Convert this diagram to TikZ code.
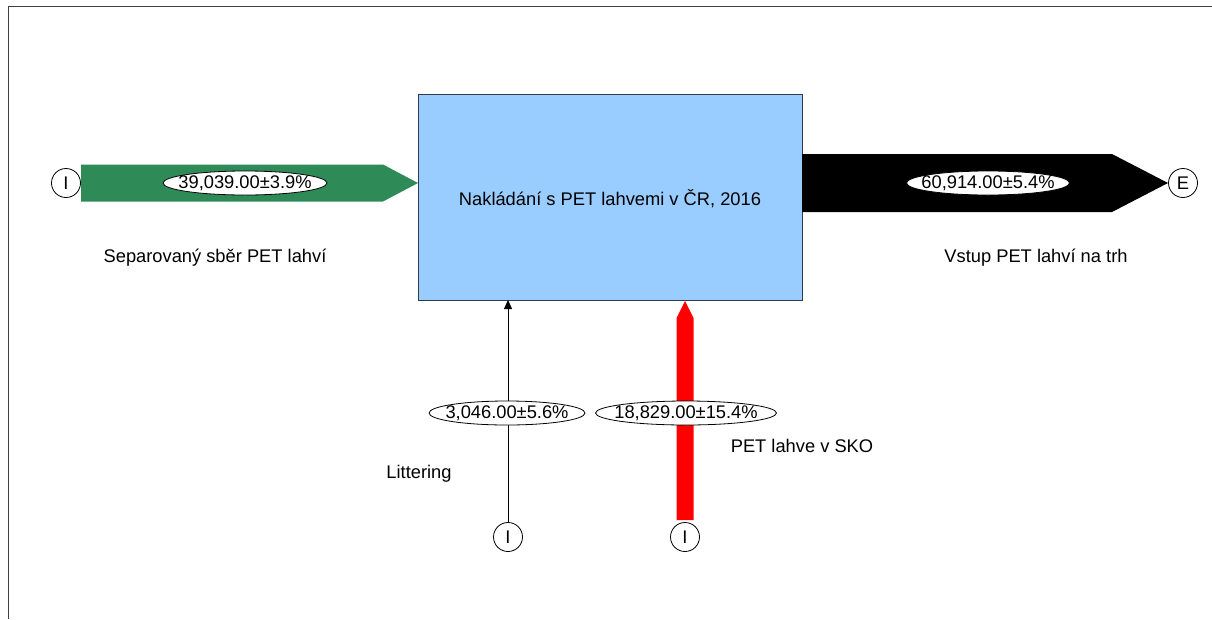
\documentclass[tikz,border=0pt]{standalone}
\usepackage{fontspec}
\setmainfont{Liberation Sans}
\usetikzlibrary{arrows.meta,shapes.geometric}
\definecolor{boxblue}{HTML}{99CCFF}
\definecolor{boxedge}{HTML}{2F3A4A}
\definecolor{flowgreen}{HTML}{2E8B57}
\definecolor{flowred}{HTML}{FF0000}
\begin{document}
\begin{tikzpicture}[x=1pt,y=-1pt,
  every node/.style={font=\fontsize{18.3}{22}\selectfont},
  term/.style={circle,draw=black,line width=0.8pt,fill=white,minimum size=29pt,inner sep=0pt},
  flowell/.style={ellipse,draw=black,line width=0.8pt,fill=white,inner sep=0pt,minimum height=24pt},
  txt/.style={inner sep=0pt},
  procbox/.style={draw=boxedge,line width=1pt,fill=boxblue}
]
\useasboundingbox (0,0) rectangle (1212,619);
% frame
\draw[line width=0.8pt,black!75] (8,619) -- (8,6) -- (1212,6);
% process box
\node[procbox,minimum width=384pt,minimum height=206pt,anchor=north west] (box) at (418,94) {};
\node[txt] (boxtext) at (610,199) {Naklád\'an\'i s PET lahvemi v ČR, 2016};
% green inflow
\node[term] (i1) at (66,183) {I};
\fill[flowgreen] (81,164.5) -- (383,164.5) -- (418,183) -- (383,201.5) -- (81,201.5) -- cycle;
\node[flowell,minimum width=164pt] (e1b) at (245,183) {};
\node[txt] (l1) at (245,183) {39,039.00±3.9\%};
\node[txt] (t1) at (215,258) {Separovaný sběr PET lahví};
% black outflow
\fill[black] (802,154) -- (1112,154) -- (1168,183) -- (1112,212) -- (802,212) -- cycle;
\node[term] (e1) at (1183,183) {E};
\node[flowell,minimum width=163pt] (e2b) at (988,183) {};
\node[txt] (l2) at (988,183) {60,914.00±5.4\%};
\node[txt] (t2) at (1036,258) {Vstup PET lahví na trh};
% littering
\node[term] (i2) at (508,537) {I};
\coordinate (b2) at (508,300);
\draw[line width=1pt,-{Triangle[length=9pt,width=8pt]}] (i2.north) -- (b2);
\node[flowell,minimum width=156pt] (e3b) at (507,413) {};
\node[txt] (l3) at (507,413) {3,046.00±5.6\%};
\node[txt] (t3) at (419,474) {Littering};
% red inflow
\node[term] (i3) at (685,537) {I};
\fill[flowred] (676.5,520) -- (676.5,318) -- (685,301) -- (693.5,318) -- (693.5,520) -- cycle;
\node[flowell,minimum width=181pt] (e4b) at (686,413) {};
\node[txt] (l4) at (686,413) {18,829.00±15.4\%};
\node[txt] (t4) at (802,446) {PET lahve v SKO};
\end{tikzpicture}
\end{document}
